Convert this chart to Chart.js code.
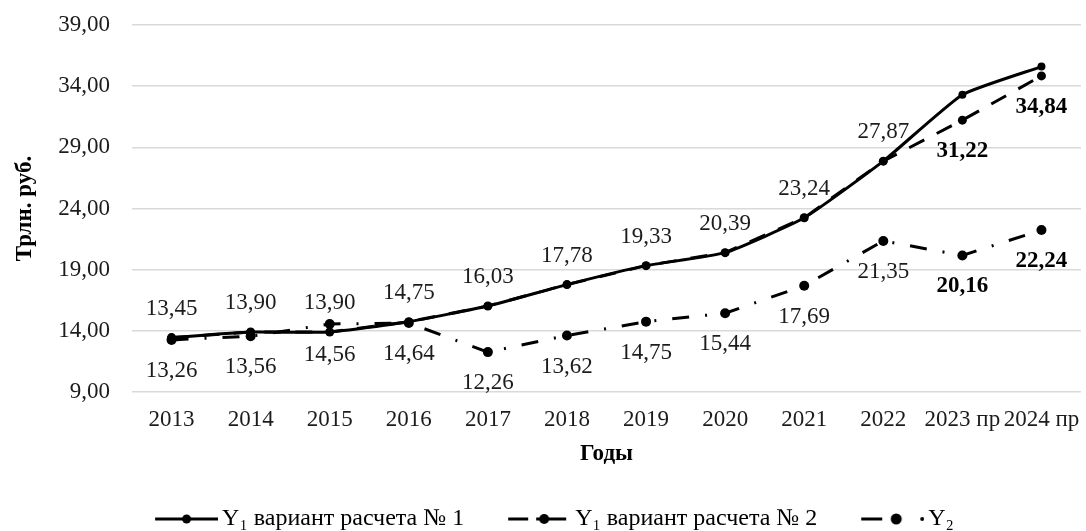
<!DOCTYPE html>
<html>
<head>
<meta charset="utf-8">
<script src="https://cdn.jsdelivr.net/npm/chart.js@4.4.1/dist/chart.umd.min.js"></script>
<style>
  html, body { margin: 0; padding: 0; background: #fff; overflow: hidden; }
  #wrap { width: 1086px; height: 531px; overflow: hidden; }
  canvas { display: block; }
</style>
</head>
<body>
<div id="wrap"><canvas id="c" width="1086" height="541"></canvas></div>
<script>
// Годы и прогнозные периоды
const years = ['2013', '2014', '2015', '2016', '2017', '2018', '2019', '2020', '2021', '2022', '2023 пр', '2024 пр'];

// Y1, вариант расчета № 1 (трлн. руб.)
const y1Variant1 = [13.45, 13.90, 13.90, 14.75, 16.03, 17.78, 19.33, 20.39, 23.24, 27.87, 33.30, 35.60];
// Y1, вариант расчета № 2 (трлн. руб.)
const y1Variant2 = [13.45, 13.90, 13.90, 14.75, 16.03, 17.78, 19.33, 20.39, 23.24, 27.87, 31.22, 34.84];
// Y2 (трлн. руб.)
const y2Values = [13.26, 13.56, 14.56, 14.64, 12.26, 13.62, 14.75, 15.44, 17.69, 21.35, 20.16, 22.24];

const seriesNames = ['Y₁ вариант расчета № 1', 'Y₁ вариант расчета № 2', 'Y₂'];
const axisTitles = { x: 'Годы', y: 'Трлн. руб.' };
const yRange = { min: 9, max: 39, step: 5 };

const FONT = 'Liberation Serif';
const TEXT = '#1c1c1c';
const fmt = v => Number(v).toFixed(2).replace('.', ',');

// Small legend glyphs: line style + marker, drawn on their own canvases
function legendGlyph(kind) {
  const c = document.createElement('canvas');
  c.width = 97; c.height = 14;
  const g = c.getContext('2d');
  g.strokeStyle = '#000'; g.fillStyle = '#000'; g.lineWidth = 3;
  const x0 = 34, y = 7;
  const seg = (a, b) => { g.beginPath(); g.moveTo(x0 + a, y); g.lineTo(x0 + b, y); g.stroke(); };
  const dot = (cx, r) => { g.beginPath(); g.arc(x0 + cx, y, r, 0, Math.PI * 2); g.fill(); };
  if (kind === 0) { seg(0, 63); dot(31.5, 4.5); }
  if (kind === 1) { seg(0, 20); seg(28, 58); dot(36, 5); }
  if (kind === 2) { seg(0, 21); dot(35, 5.5); dot(61, 2); }
  return c;
}
const glyphs = [legendGlyph(0), legendGlyph(1), legendGlyph(2)];

// Value labels placed relative to each point of a dataset
const valueLabels = {
  id: 'valueLabels',
  afterDatasetsDraw(chart) {
    const ctx = chart.ctx;
    chart.data.datasets.forEach((ds, i) => {
      const cfg = ds.valueLabels;
      if (!cfg) return;
      const meta = chart.getDatasetMeta(i);
      meta.data.forEach((pt, j) => {
        if (!cfg.show(j)) return;
        const bold = cfg.bold(j);
        ctx.save();
        ctx.font = (bold ? 'bold ' : '') + '23px "' + FONT + '"';
        ctx.fillStyle = bold ? '#000' : TEXT;
        ctx.textAlign = 'center';
        ctx.textBaseline = 'middle';
        ctx.fillText(fmt(ds.data[j]), pt.x, pt.y + cfg.offset);
        ctx.restore();
      });
    });
  }
};

const forecast = j => j >= 10;

new Chart(document.getElementById('c'), {
  type: 'line',
  data: {
    labels: years,
    datasets: [
      {
        label: seriesNames[0],
        data: y1Variant1,
        borderColor: '#000', backgroundColor: '#000',
        borderWidth: 3, pointRadius: 4, pointHoverRadius: 4,
        pointBackgroundColor: '#000', pointBorderWidth: 0,
        tension: 0.15,
        valueLabels: { show: j => j < 10, bold: () => false, offset: -29 }
      },
      {
        label: seriesNames[1],
        data: y1Variant2,
        borderColor: '#000', backgroundColor: '#000',
        borderWidth: 3, borderDash: [17, 14],
        pointRadius: 4.5, pointHoverRadius: 4.5,
        pointBackgroundColor: '#000', pointBorderWidth: 0,
        tension: 0,
        valueLabels: { show: forecast, bold: forecast, offset: 31 }
      },
      {
        label: seriesNames[2],
        data: y2Values,
        borderColor: '#000', backgroundColor: '#000',
        borderWidth: 3, borderDash: [17, 16, 2, 16],
        pointRadius: 5, pointHoverRadius: 5,
        pointBackgroundColor: '#000', pointBorderWidth: 0,
        tension: 0,
        valueLabels: { show: () => true, bold: forecast, offset: 31 }
      }
    ]
  },
  options: {
    responsive: false,
    animation: false,
    devicePixelRatio: 1,
    layout: { padding: { left: 0, right: 3, top: 25, bottom: 0 } },
    plugins: {
      tooltip: { enabled: false },
      legend: {
        position: 'bottom',
        labels: {
          usePointStyle: true,
          pointStyleWidth: 81,
          padding: 18,
          color: TEXT,
          font: { family: FONT, size: 24 },
          generateLabels: chart => chart.data.datasets.map((ds, i) => ({
            text: ds.label,
            pointStyle: glyphs[i],
            datasetIndex: i,
            fillStyle: '#000', strokeStyle: '#000', lineWidth: 0, hidden: false
          }))
        }
      }
    },
    scales: {
      x: {
        offset: true,
        grid: { display: false, drawTicks: false, offset: true },
        border: { display: false },
        ticks: { color: TEXT, font: { family: FONT, size: 23 }, padding: 14, autoSkip: false, maxRotation: 0 },
        title: { display: true, text: axisTitles.x, color: '#000', font: { family: FONT, size: 23, weight: 'bold' }, padding: { top: 0, bottom: 21 } },
        afterFit: s => { s.height = 97; s.paddingLeft = 0; s.paddingRight = 0; }
      },
      y: {
        min: yRange.min, max: yRange.max,
        grid: { color: '#d9d9d9', lineWidth: 1.5, drawTicks: false },
        border: { display: false },
        ticks: { stepSize: yRange.step, color: TEXT, font: { family: FONT, size: 23 }, padding: 22, callback: v => fmt(v) },
        title: { display: true, text: axisTitles.y, color: '#000', font: { family: FONT, size: 23, weight: 'bold' }, padding: { top: 11, bottom: 0 } },
        afterFit: s => { s.width = 132; s.paddingTop = 0; s.paddingBottom = 0; }
      }
    }
  },
  plugins: [valueLabels]
});
</script>
</body>
</html>
